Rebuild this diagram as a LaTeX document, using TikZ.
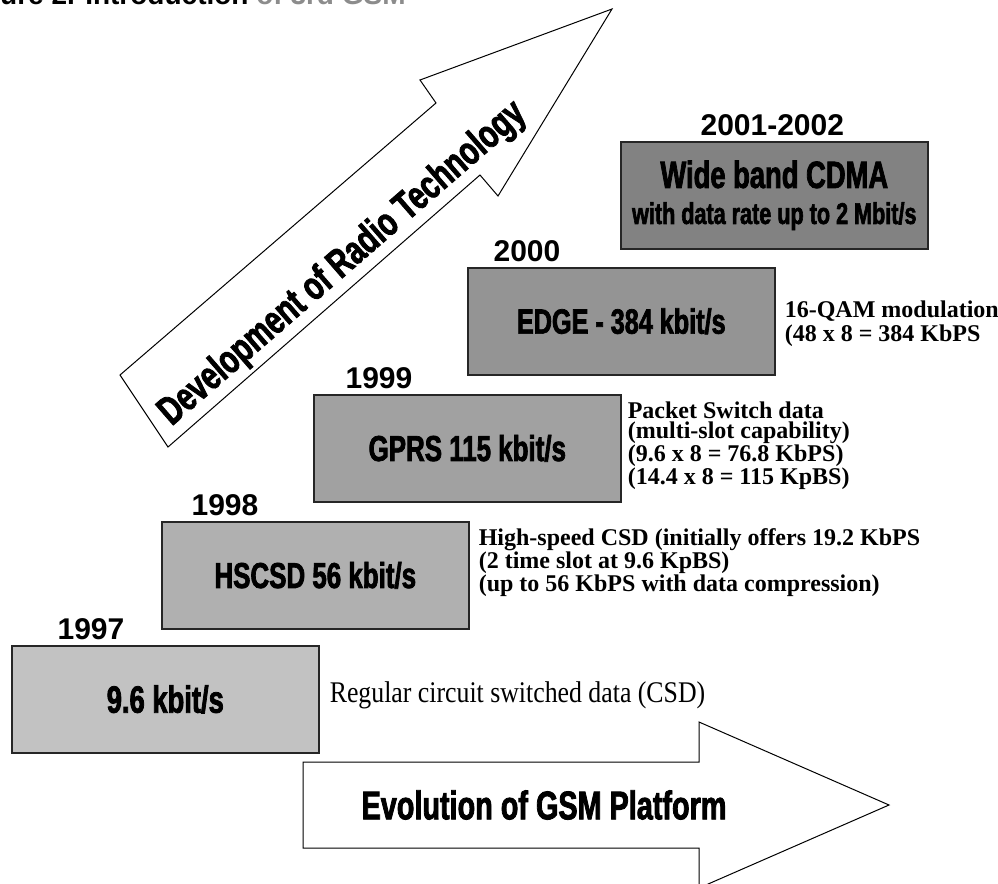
\documentclass[tikz,border=0pt]{standalone}
\usepackage{fontspec}
\setmainfont{Liberation Serif}
\newfontfamily\headfont{Liberation Sans}
\newfontfamily\condfont{Liberation Sans}[FakeStretch=0.72,BoldFeatures={FakeBold=2}]
\newfontfamily\narrowserif{Liberation Serif}[FakeStretch=0.86]
\usepackage{xcolor}

\tikzset{
  stage/.style={draw=black!85, line width=1.6pt, minimum width=307pt, minimum height=107pt,
    inner sep=0pt, anchor=north west, align=center,
    font=\condfont\bfseries\fontsize{36}{36}\selectfont},
  year/.style={anchor=base, inner sep=0pt, font=\headfont\bfseries\fontsize{30}{30}\selectfont},
  note/.style={anchor=west, inner sep=0pt, align=left},
  bigarrow/.style={draw=black, line width=1pt, fill=white},
  arrowtext/.style={inner sep=0pt, font=\condfont\bfseries\fontsize{40}{40}\selectfont}
}

\begin{document}
\begin{tikzpicture}[x=1pt,y=-1pt]
  \useasboundingbox (0,0) rectangle (998,883);
  \fill[white] (0,0) rectangle (998,883);
  \clip (0,0) rectangle (998,883);

  \node[anchor=base west, inner sep=0pt, font=\headfont\bfseries\fontsize{28}{28}\selectfont] (title) at (-42,5)
    {Figure 2. Introduction {\color{black!45}of 3rd GSM}};

  \draw[bigarrow] (120,375) -- (436,103) -- (420,80) -- (612,9) -- (498,196) -- (480,175) -- (168,447) -- cycle;
  \node[arrowtext, rotate=41] (radio) at (343,264) {Development of Radio Technology};

  \node[stage, fill=black!24] (csd)   at (11,645)  {\fontsize{38}{38}\selectfont 9.6 kbit/s};
  \node[stage, fill=black!31] (hscsd) at (161,521) {HSCSD 56 kbit/s};
  \node[stage, fill=black!37] (gprs)  at (313,394) {GPRS 115 kbit/s};
  \node[stage, fill=black!42] (edge)  at (467,267) {\fontsize{35}{35}\selectfont EDGE - 384 kbit/s};
  \node[stage, fill=black!49] (wcdma) at (620,141)
    {{\fontsize{38}{30}\selectfont Wide band CDMA}\\{\fontsize{30}{28}\selectfont with data rate up to 2 Mbit/s}};

  \node[year] (y97) at ([xshift=80pt,yshift=6pt]csd.north west)   {1997};
  \node[year] (y98) at ([xshift=64pt,yshift=6pt]hscsd.north west) {1998};
  \node[year] (y99) at ([xshift=66pt,yshift=6pt]gprs.north west)  {1999};
  \node[year] (y00) at ([xshift=60pt,yshift=6pt]edge.north west)  {2000};
  \node[year] (y01) at ([xshift=-2pt,yshift=6pt]wcdma.north)      {2001-2002};

  \node[note, font=\narrowserif\fontsize{30}{30}\selectfont] (csdnote) at ([xshift=10pt,yshift=4pt]csd.east)
    {Regular circuit switched data (CSD)};
  \node[note, font=\bfseries\fontsize{24}{21}\selectfont] (hscsdnote) at ([xshift=9pt,yshift=13pt]hscsd.east)
    {High-speed CSD (initially offers 19.2 KbPS\\(2 time slot at 9.6 KpBS)\\(up to 56 KbPS with data compression)};
  \node[note, font=\bfseries\fontsize{24}{20.5}\selectfont] (gprsnote) at ([xshift=6pt,yshift=3pt]gprs.east)
    {Packet Switch data\\(multi-slot capability)\\(9.6 x 8 = 76.8 KbPS)\\(14.4 x 8 = 115 KpBS)};
  \node[note, font=\bfseries\fontsize{24}{24}\selectfont] (edgenote) at ([xshift=9pt,yshift=-2pt]edge.east)
    {16-QAM modulation\\(48 x 8 = 384 KbPS};

  \draw[bigarrow] (303,762) -- (699,762) -- (699,722) -- (889,805) -- (699,888) -- (699,848) -- (303,848) -- cycle;
  \node[arrowtext] (gsm) at (544,805) {Evolution of GSM Platform};
\end{tikzpicture}
\end{document}
